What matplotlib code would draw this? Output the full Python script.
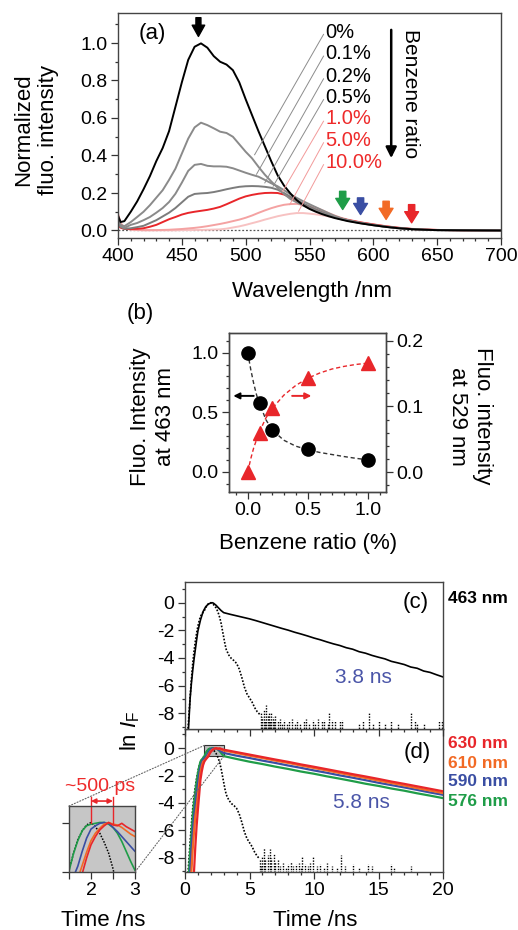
import numpy as np
import matplotlib
matplotlib.use('Agg')
import matplotlib.pyplot as plt
import matplotlib.transforms as mtransforms
from matplotlib.ticker import MultipleLocator, FormatStrFormatter
from matplotlib.patches import Rectangle, ConnectionPatch

plt.rcParams['font.family'] = ['Liberation Sans', 'DejaVu Sans']
plt.rcParams['mathtext.fontset'] = 'custom'
plt.rcParams['mathtext.rm'] = 'Liberation Sans'
plt.rcParams['mathtext.it'] = 'Liberation Sans:italic'
plt.rcParams['axes.unicode_minus'] = False

#-----------------------------------------------------------------------
# (a) normalized fluorescence spectra
wl = [400, 402, 405, 410, 415, 420, 425, 430, 435, 440, 445, 450, 455, 460, 465,
      470, 475, 480, 485, 490, 495, 500, 505, 510, 515, 520, 525, 530, 535, 540,
      545, 550, 555, 560, 565, 570, 575, 580, 590, 600, 610, 620, 630, 640, 650,
      670, 700]
spec_0 = [0.08, 0.045, 0.05, 0.10, 0.155, 0.22, 0.29, 0.37, 0.44, 0.53, 0.66, 0.79,
          0.91, 0.98, 0.998, 0.975, 0.93, 0.90, 0.885, 0.855, 0.79, 0.70, 0.615, 0.53,
          0.45, 0.37, 0.295, 0.24, 0.198, 0.162, 0.135, 0.115, 0.10, 0.087, 0.076,
          0.066, 0.058, 0.050, 0.038, 0.028, 0.019, 0.012, 0.007, 0.004, 0.002, 0.001, 0.0]
spec_01 = [0.07, 0.03, 0.023, 0.045, 0.072, 0.10, 0.135, 0.175, 0.215, 0.27, 0.33, 0.41,
           0.49, 0.55, 0.575, 0.562, 0.545, 0.527, 0.52, 0.50, 0.46, 0.42, 0.385, 0.34,
           0.298, 0.262, 0.228, 0.195, 0.168, 0.15, 0.133, 0.118, 0.105, 0.092, 0.08,
           0.069, 0.06, 0.052, 0.039, 0.028, 0.019, 0.012, 0.007, 0.004, 0.002, 0.001, 0.0]
spec_02 = [0.06, 0.022, 0.014, 0.03, 0.04, 0.055, 0.072, 0.095, 0.12, 0.152, 0.196, 0.255,
           0.318, 0.35, 0.355, 0.345, 0.342, 0.342, 0.34, 0.332, 0.32, 0.308, 0.297, 0.287,
           0.27, 0.252, 0.236, 0.215, 0.193, 0.174, 0.156, 0.14, 0.124, 0.108, 0.092,
           0.077, 0.065, 0.055, 0.04, 0.029, 0.02, 0.012, 0.007, 0.004, 0.002, 0.001, 0.0]
spec_05 = [0.05, 0.02, 0.009, 0.012, 0.018, 0.025, 0.04, 0.055, 0.075, 0.095, 0.12, 0.15,
           0.18, 0.195, 0.198, 0.2, 0.205, 0.212, 0.22, 0.227, 0.233, 0.236, 0.237, 0.236,
           0.233, 0.228, 0.218, 0.2, 0.18, 0.162, 0.145, 0.128, 0.112, 0.097, 0.084,
           0.072, 0.062, 0.054, 0.041, 0.03, 0.02, 0.013, 0.008, 0.004, 0.002, 0.001, 0.0]
spec_10 = [0.03, 0.015, 0.008, 0.008, 0.009, 0.012, 0.02, 0.03, 0.045, 0.06, 0.072, 0.085,
           0.094, 0.1, 0.105, 0.11, 0.117, 0.126, 0.14, 0.155, 0.17, 0.182, 0.19, 0.196,
           0.2, 0.201, 0.2, 0.192, 0.177, 0.158, 0.14, 0.124, 0.11, 0.097, 0.085,
           0.074, 0.064, 0.056, 0.043, 0.032, 0.022, 0.014, 0.008, 0.005, 0.003, 0.001, 0.0]
spec_50 = [0.09, 0.04, 0.015, 0.006, 0.003, 0.002, 0.002, 0.002, 0.003, 0.004, 0.006, 0.008,
           0.011, 0.014, 0.018, 0.023, 0.029, 0.035, 0.042, 0.05, 0.058, 0.068, 0.08, 0.094,
           0.107, 0.119, 0.129, 0.137, 0.141, 0.142, 0.137, 0.13, 0.122, 0.108, 0.093,
           0.079, 0.067, 0.058, 0.044, 0.033, 0.023, 0.015, 0.009, 0.005, 0.003, 0.001, 0.0]
spec_100 = [0.08, 0.035, 0.012, 0.004, 0.002, 0.001, 0.001, 0.001, 0.001, 0.001, 0.001, 0.002,
            0.002, 0.003, 0.003, 0.004, 0.005, 0.006, 0.01, 0.016, 0.022, 0.03, 0.039, 0.048,
            0.058, 0.067, 0.076, 0.083, 0.089, 0.093, 0.093, 0.09, 0.086, 0.081, 0.075,
            0.068, 0.061, 0.054, 0.042, 0.031, 0.022, 0.014, 0.008, 0.005, 0.003, 0.001, 0.0]
spec_labels = ['0%', '0.1%', '0.2%', '0.5%', '1.0%', '5.0%', '10.0%']
spectra = [spec_0, spec_01, spec_02, spec_05, spec_10, spec_50, spec_100]
arrow_wl = [576, 590, 610, 630]

# (b) intensity vs benzene ratio
ratio = [0.0, 0.1, 0.2, 0.5, 1.0]
int_463 = [1.0, 0.575, 0.352, 0.19, 0.095]
int_529 = [0.0, 0.059, 0.097, 0.144, 0.166]
fit_x = [0.0, 0.025, 0.05, 0.075, 0.1, 0.15, 0.2, 0.3, 0.4, 0.5, 0.6, 0.7, 0.8, 0.9, 1.0]
fit_463 = [1.0, 0.86, 0.74, 0.64, 0.57, 0.44, 0.355, 0.265, 0.215, 0.185, 0.162, 0.145,
           0.128, 0.113, 0.1]
fit_529 = [0.0, 0.02, 0.037, 0.05, 0.062, 0.082, 0.096, 0.117, 0.132, 0.143, 0.151, 0.157,
           0.161, 0.164, 0.166]

# (c) decay at 463 nm and instrument response
t_463 = [0.2, 0.3, 0.4, 0.5, 0.6, 0.7, 0.8, 0.9, 1.0, 1.2, 1.4, 1.6, 1.8, 2.0, 2.1, 2.2,
         2.4, 2.6, 2.8, 3.0] + list(np.arange(3.5, 20.01, 0.5))
ln_463 = [-10.5, -8.6, -6.9, -5.8, -4.9, -4.1, -3.4, -2.7, -2.05, -1.25, -0.65, -0.3, -0.1,
          -0.02, 0.0, -0.03, -0.18, -0.38, -0.57, -0.72,
          -0.84, -0.95, -1.06, -1.17, -1.30, -1.44, -1.58, -1.72, -1.86, -1.99, -2.14, -2.27,
          -2.41, -2.56, -2.69, -2.84, -2.98, -3.10, -3.26, -3.37, -3.55, -3.66, -3.82, -3.95,
          -4.07, -4.25, -4.36, -4.48, -4.66, -4.75, -4.95, -5.05, -5.22, -5.38]
t_irf = [0.2, 0.3, 0.4, 0.5, 0.6, 0.7, 0.8, 0.9, 1.0, 1.1, 1.2, 1.3, 1.4, 1.5, 1.6, 1.7,
         1.8, 1.9, 2.0, 2.1, 2.2, 2.3, 2.4, 2.5, 2.6, 2.7, 2.8, 2.9, 3.0, 3.1, 3.2, 3.4,
         3.6, 3.8, 4.0, 4.2, 4.4, 4.6, 4.8, 5.0, 5.2, 5.4, 5.6, 5.8]
ln_irf = [-9.6, -8.2, -6.8, -5.5, -4.4, -3.5, -2.8, -2.2, -1.7, -1.3, -1.0, -0.82, -0.7,
          -0.57, -0.38, -0.21, -0.1, -0.03, 0.0, -0.05, -0.13, -0.24, -0.37, -0.56, -0.8,
          -1.1, -1.5, -2.0, -2.5, -3.0, -3.4, -3.8, -4.05, -4.2, -4.4, -4.8, -5.4, -6.1,
          -6.6, -6.9, -7.2, -7.6, -7.9, -8.1]
noise_c_t = [5.9, 6.0, 6.1, 6.2, 6.3, 6.4, 6.5, 6.6, 6.7, 6.8, 6.9, 7.0, 7.2, 7.4, 7.5,
             7.7, 7.9, 8.1, 8.3, 8.5, 8.7, 8.9, 9.2, 9.4, 9.6, 9.9, 10.1, 10.3, 10.6, 10.8,
             11.1, 11.2, 11.4, 11.6, 12.0, 12.2, 13.5, 13.8, 14.3, 14.6, 15.0, 15.5, 16.0,
             16.5, 17.5, 17.8, 18.0, 18.5, 19.7, 19.9]
noise_c_y = [-8.0, -8.3, -7.8, -8.5, -7.4, -8.1, -8.0, -8.6, -7.9, -8.3, -8.5, -8.2, -8.6,
             -8.4, -8.7, -8.5, -8.8, -8.6, -8.4, -8.7, -8.5, -8.8, -8.6, -8.4, -8.7, -8.5,
             -8.8, -8.4, -8.6, -8.5, -8.7, -8.0, -8.5, -8.6, -8.6, -8.5, -8.8, -8.6, -7.9,
             -8.7, -8.6, -8.7, -8.6, -8.8, -7.9, -8.6, -8.7, -8.7, -8.6, -8.6]

# (d) decays at 576-630 nm
t_d = [0.2, 0.3, 0.4, 0.5, 0.6, 0.7, 0.8, 0.9, 1.0, 1.1, 1.2, 1.3, 1.4, 1.5, 1.6, 1.7,
       1.8, 1.9, 2.0, 2.1, 2.2, 2.3, 2.4, 2.5, 2.6, 2.7, 2.8, 2.9, 3.0,
       4, 5, 6, 7, 8, 9, 10, 11, 12, 13, 14, 15, 16, 17, 18, 19, 20]
ln_576 = [-10.5, -9.2, -7.6, -6.3, -5.0, -4.0, -3.2, -2.45, -1.85, -1.35, -0.98, -0.84,
          -0.72, -0.59, -0.38, -0.22, -0.10, -0.04, -0.02, -0.01, 0.0, 0.0, -0.02, -0.06,
          -0.13, -0.23, -0.35, -0.47, -0.58,
          -0.79, -0.99, -1.16, -1.35, -1.52, -1.71, -1.87, -2.06, -2.23, -2.41, -2.60,
          -2.76, -2.95, -3.11, -3.30, -3.47, -3.65]
ln_590 = [-10.5, -10.5, -9.0, -7.4, -6.1, -5.0, -4.2, -3.4, -2.6, -1.9, -1.4, -1.05,
          -0.85, -0.74, -0.66, -0.53, -0.35, -0.19, -0.08, -0.04, -0.01, 0.0, -0.01, -0.06,
          -0.11, -0.17, -0.23, -0.29, -0.35,
          -0.55, -0.72, -0.91, -1.08, -1.27, -1.44, -1.63, -1.80, -1.99, -2.16, -2.34,
          -2.53, -2.70, -2.87, -3.05, -3.24, -3.41]
ln_610 = [-10.5, -10.5, -10.5, -9.0, -7.4, -6.1, -5.0, -4.3, -3.5, -2.6, -1.8, -1.3,
          -1.0, -0.9, -0.8, -0.68, -0.52, -0.36, -0.22, -0.13, -0.07, -0.02, 0.0, -0.02,
          -0.03, -0.06, -0.10, -0.14, -0.17,
          -0.36, -0.55, -0.72, -0.91, -1.08, -1.27, -1.45, -1.63, -1.82, -2.00, -2.18,
          -2.37, -2.55, -2.73, -2.92, -3.10, -3.28]
ln_630 = [-10.5, -10.5, -10.5, -10.5, -10.5, -9.0, -7.2, -5.7, -4.5, -3.4, -2.3, -1.7,
          -1.25, -0.98, -0.84, -0.72, -0.62, -0.43, -0.27, -0.17, -0.09, -0.04, 0.0, -0.03,
          -0.04, -0.01, -0.05, -0.08, -0.11,
          -0.29, -0.47, -0.65, -0.83, -1.00, -1.19, -1.36, -1.54, -1.72, -1.90, -2.07,
          -2.25, -2.44, -2.61, -2.79, -2.97, -3.15]
noise_d_t = [5.8, 5.9, 6.0, 6.1, 6.2, 6.4, 6.6, 6.7, 6.9, 7.0, 7.2, 7.4, 7.6, 7.8, 8.0,
             8.2, 8.4, 8.6, 8.8, 9.0, 9.1, 9.3, 9.5, 9.7, 9.9, 10.2, 10.5, 10.8, 11.0, 11.4,
             11.8, 12.1, 12.4, 13.0, 13.5, 14.2, 14.5, 16.0, 16.2, 17.5]
noise_d_y = [-8.1, -8.6, -7.9, -7.3, -8.2, -7.8, -7.4, -8.0, -7.7, -8.3, -8.2, -8.6, -8.4,
             -8.7, -8.5, -8.3, -8.6, -8.5, -8.4, -8.7, -7.9, -8.5, -8.6, -8.4, -7.85, -8.6,
             -8.5, -8.7, -8.4, -8.6, -8.7, -7.8, -8.6, -8.5, -8.7, -8.5, -8.6, -8.5, -8.7, -8.6]
d_labels = ['630 nm', '610 nm', '590 nm', '576 nm']

#-----------------------------------------------------------------------
W, H = 518, 930
def fx(x):
    return x / W
def fy(y):
    return 1 - y / H
def box(l, t, r, b):
    return [fx(l), fy(b), (r - l) / W, (b - t) / H]

RED, ORANGE, BLUE, GREEN = '#e8262a', '#f26a25', '#3a4ea3', '#1f9d48'
NSBLUE = '#4a55a8'
TFS, LFS = 14, 16

def style(ax, fs=TFS):
    ax.tick_params(which='both', direction='out', top=False, right=False,
                   labelsize=fs, width=0.9, color='#333', pad=2.5)
    ax.tick_params(which='major', length=5)
    ax.tick_params(which='minor', length=2.5)
    for s in ax.spines.values():
        s.set_color('#444'); s.set_linewidth(1.0)

fig = plt.figure(figsize=(W / 100, H / 100), dpi=100)

# ---- (a)
ax_a = fig.add_axes(box(118, 13, 501, 238))
spec_colors = ['black', '#8a8a8a', '#8a8a8a', '#7c7c7c', RED, '#f4a2a2', '#f7c2c2']
for sp, c in list(zip(spectra, spec_colors))[::-1]:
    ax_a.plot(wl, sp, color=c, lw=1.4)
ax_a.axhline(0, color='#555', ls=(0, (1.5, 1.5)), lw=0.9, zorder=0)
ax_a.set_xlim(400, 700); ax_a.set_ylim(-0.04, 1.16)
ax_a.xaxis.set_major_locator(MultipleLocator(50)); ax_a.xaxis.set_minor_locator(MultipleLocator(10))
ax_a.yaxis.set_major_locator(MultipleLocator(0.2)); ax_a.yaxis.set_minor_locator(MultipleLocator(0.1))
ax_a.yaxis.set_major_formatter(FormatStrFormatter('%.1f'))
style(ax_a)
ax_a.text(416, 1.05, '(a)', fontsize=16, va='center')

lab_y = [1.058, 0.942, 0.821, 0.71, 0.595, 0.48, 0.363]
lead_end = [(507, 0.404), (508.5, 0.30), (515, 0.254), (521.5, 0.236),
            (529, 0.209), (534.5, 0.138), (541.5, 0.103)]
for i, lab in enumerate(spec_labels):
    tc = 'black' if i < 4 else '#ee2a2a'
    lc = '#8c8c8c' if i < 4 else '#f29a9a'
    ax_a.text(562.5, lab_y[i], lab, color=tc, fontsize=14.5, va='center')
    ax_a.plot([561, lead_end[i][0]], [lab_y[i] - 0.012, lead_end[i][1]], color=lc, lw=0.7)

ax_a.annotate('', xy=(463, 1.035), xytext=(463, 1.135),
              arrowprops=dict(arrowstyle='simple,head_length=0.9,head_width=1.0,tail_width=0.4',
                              color='black', shrinkA=0, shrinkB=0, mutation_scale=9))
for w, c, y0, y1 in zip(arrow_wl, [GREEN, BLUE, ORANGE, RED],
                        [0.209, 0.174, 0.156, 0.138], [0.112, 0.085, 0.059, 0.041]):
    ax_a.annotate('', xy=(w, y1), xytext=(w, y0),
                  arrowprops=dict(arrowstyle='simple,head_length=0.8,head_width=1.0,tail_width=0.45',
                                  color=c, shrinkA=0, shrinkB=0, mutation_scale=10))
ax_a.annotate('', xy=(614, 0.386), xytext=(614, 1.07),
              arrowprops=dict(arrowstyle='-|>', color='black', lw=1.8, shrinkA=0, shrinkB=0,
                              mutation_scale=16))
ax_a.text(629, 0.73, 'Benzene ratio', rotation=-90, fontsize=15, ha='center', va='center')

fig.text(fx(36), fy(130), 'Normalized\nfluo. intensity', rotation=90, fontsize=LFS,
         ha='center', va='center', multialignment='center')
fig.text(fx(312), fy(291), 'Wavelength /nm', fontsize=LFS, ha='center', va='center')

# ---- (b)
ax_b = fig.add_axes(box(229, 333, 386, 492))
ax_b2 = ax_b.twinx()
ax_b.plot(fit_x, fit_463, color='#333', ls=(0, (3, 2)), lw=1.0)
ax_b.plot(ratio, int_463, 'o', color='black', ms=9.5)
ax_b2.plot(fit_x, fit_529, color=RED, ls=(0, (3, 2)), lw=1.0)
ax_b2.plot(ratio, int_529, '^', color=RED, ms=10.5)
ax_b.set_xlim(-0.156, 1.152)
ax_b.set_ylim(-0.17, 1.165); ax_b2.set_ylim(-0.0305, 0.212)
ax_b.xaxis.set_major_locator(MultipleLocator(0.5)); ax_b.xaxis.set_minor_locator(MultipleLocator(0.1))
ax_b.yaxis.set_major_locator(MultipleLocator(0.5)); ax_b.yaxis.set_minor_locator(MultipleLocator(0.1))
ax_b2.yaxis.set_major_locator(MultipleLocator(0.1)); ax_b2.yaxis.set_minor_locator(MultipleLocator(0.02))
for a in (ax_b, ax_b2):
    a.xaxis.set_major_formatter(FormatStrFormatter('%.1f'))
    a.yaxis.set_major_formatter(FormatStrFormatter('%.1f'))
style(ax_b); style(ax_b2)
ax_b2.tick_params(which='both', left=False, right=True, labelleft=False, labelright=True)
ax_b.annotate('', xy=(-0.12, 0.637), xytext=(0.05, 0.637),
              arrowprops=dict(arrowstyle='-|>', color='black', lw=1.4, shrinkA=0, shrinkB=0,
                              mutation_scale=9))
ax_b.annotate('', xy=(0.53, 0.637), xytext=(0.37, 0.637),
              arrowprops=dict(arrowstyle='-|>', color=RED, lw=1.4, shrinkA=0, shrinkB=0,
                              mutation_scale=9))
fig.text(fx(140), fy(313), '(b)', fontsize=16, ha='center', va='center')
fig.text(fx(153), fy(417), 'Fluo. Intensity\nat 463 nm', rotation=90, fontsize=LFS,
         ha='center', va='center', multialignment='center')
fig.text(fx(470), fy(416), 'Fluo. intensity\nat 529 nm', rotation=-90, fontsize=LFS,
         ha='center', va='center', multialignment='center')
fig.text(fx(308), fy(543), 'Benzene ratio (%)', fontsize=LFS, ha='center', va='center')

# ---- (d)
ax_d = fig.add_axes(box(185, 729, 443, 872))
rect = Rectangle((1.5, -0.6), 1.5, 0.8, facecolor='#bdbdbd', edgecolor='#333', lw=0.8, zorder=1)
ax_d.add_patch(rect)
ax_d.plot(t_irf, ln_irf, color='black', ls=(0, (1, 1)), lw=1.2, zorder=2)
ax_d.vlines(noise_d_t, -9.5, noise_d_y, color='black', linestyles=(0, (1, 1)), lw=1.0, zorder=2)
for y, c in zip([ln_576, ln_590, ln_610, ln_630], [GREEN, BLUE, ORANGE, RED]):
    ax_d.plot(t_d, y, color=c, lw=1.6, zorder=3)
ax_d.set_xlim(0, 20); ax_d.set_ylim(-9.05, 1.4)
ax_d.text(18.0, -0.34, '(d)', fontsize=16, ha='center', va='center')
ax_d.text(13.7, -4.0, '5.8 ns', fontsize=15, color=NSBLUE, ha='center', va='center')

# ---- (c)
ax_c = fig.add_axes(box(185, 582, 443, 729))
ax_c.set_zorder(3)
ax_c.plot(t_irf, ln_irf, color='black', ls=(0, (1, 1)), lw=1.2)
ax_c.vlines(noise_c_t, -9.5, noise_c_y, color='black', linestyles=(0, (1, 1)), lw=1.0)
ax_c.plot(t_463, ln_463, color='black', lw=1.2)
ax_c.set_xlim(0, 20); ax_c.set_ylim(-9.15, 1.5)
ax_c.tick_params(labelbottom=False)
ax_c.text(17.9, 0.0, '(c)', fontsize=16, ha='center', va='center')
ax_c.text(13.8, -5.45, '3.8 ns', fontsize=15, color=NSBLUE, ha='center', va='center')

for a in (ax_c, ax_d):
    a.xaxis.set_major_locator(MultipleLocator(5)); a.xaxis.set_minor_locator(MultipleLocator(1))
    a.yaxis.set_major_locator(MultipleLocator(2)); a.yaxis.set_minor_locator(MultipleLocator(1))
    style(a)

fig.text(fx(478), fy(598), '463 nm', fontsize=12.5, fontweight='bold', ha='center', va='center')
for lab, c, yy in zip(d_labels, [RED, ORANGE, BLUE, GREEN], [743, 763, 782, 802]):
    fig.text(fx(478), fy(yy), lab, fontsize=12.5, fontweight='bold', color=c,
             ha='center', va='center')
fig.text(fx(130), fy(731), r'ln $I_\mathrm{F}$', rotation=90, fontsize=LFS,
         ha='center', va='center')
fig.text(fx(315), fy(920), 'Time /ns', fontsize=LFS, ha='center', va='center')

# ---- inset (zoom of d peak)
ax_in = fig.add_axes(box(69, 806, 135, 872))
ax_in.set_facecolor('#c6c6c6')
ax_in.plot(t_irf, ln_irf, color='black', ls=(0, (1, 1)), lw=1.1)
for y, c in zip([ln_576, ln_590, ln_610, ln_630], [GREEN, BLUE, ORANGE, RED]):
    ax_in.plot(t_d, y, color=c, lw=1.2)
ax_in.set_xlim(1.5, 3.0); ax_in.set_ylim(-0.6, 0.2)
ax_in.set_xticks([1.5, 2, 2.5, 3]); ax_in.set_xticklabels(['', '2', '', '3'])
ax_in.set_yticks([0, -0.6]); ax_in.set_yticklabels([])
style(ax_in)
fig.text(fx(103), fy(920), 'Time /ns', fontsize=LFS, ha='center', va='center')

trans = mtransforms.blended_transform_factory(ax_in.transData, ax_in.transAxes)
for xv in (2.0, 2.5):
    ax_in.plot([xv, xv], [0.75, 1.13], color=RED, lw=1.0, transform=trans, clip_on=False)
ax_in.annotate('', xy=(2.5, 1.075), xytext=(2.0, 1.075), xycoords=trans, textcoords=trans,
               arrowprops=dict(arrowstyle='<|-|>', color=RED, lw=1.2, shrinkA=0, shrinkB=0,
                               mutation_scale=7), annotation_clip=False)
fig.text(fx(100), fy(786), '~500 ps', fontsize=14, color='#ee2a2a', ha='center', va='center')

for pa, pb in [((1.5, 0.2), (0, 1)), ((3.0, -0.6), (1, 0))]:
    con = ConnectionPatch(xyA=pa, coordsA='data', axesA=ax_d, xyB=pb, coordsB='axes fraction',
                          axesB=ax_in, ls=':', color='#666', lw=0.8)
    fig.add_artist(con)

fig.savefig('out.png', dpi=100)
